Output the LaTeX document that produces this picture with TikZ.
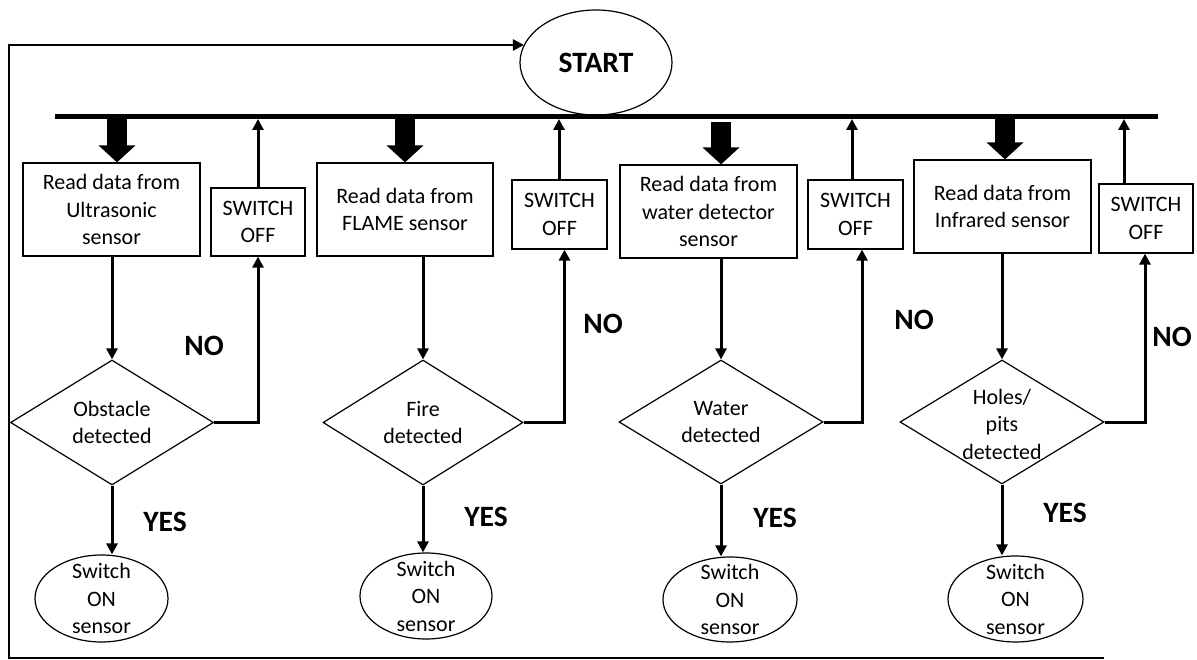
\documentclass[tikz,border=0pt]{standalone}
\usepackage{fontspec}
\setmainfont{Carlito}
\usetikzlibrary{arrows.meta,shapes.geometric,calc}
\begin{document}
\begin{tikzpicture}[x=1pt, y=-1pt,
  txt/.style={align=center, inner sep=0pt, font=\fontsize{22}{27.5}\selectfont},
  box/.style={draw, line width=1.2pt, rectangle, inner sep=0pt, align=center, font=\fontsize{22}{27.5}\selectfont},
  dec/.style={draw, diamond, line width=1.2pt, inner sep=0pt},
  term/.style={draw, ellipse, line width=1.2pt, inner sep=0pt},
  lbl/.style={inner sep=0pt, font=\fontsize{29.5}{34}\selectfont\bfseries},
  conn/.style={line width=3pt, -{Triangle[length=11pt,width=11pt]}},
  fat/.style={line width=20pt, -{Triangle[length=17pt,width=36pt]}},
  bus/.style={line width=5pt},
  loopline/.style={line width=2.6pt, -{Triangle[length=11pt,width=11pt]}}
]
\useasboundingbox (0,0) rectangle (1197,660);

% start
\node[term, minimum width=152pt, minimum height=105pt, font=\fontsize{29.5}{34}\selectfont\bfseries] (start) at (596,62.5) {START};

% bus
\coordinate (busL) at (55,117);
\coordinate (busR) at (1158,117);
\coordinate (busB) at (0,119);
\draw[bus] (busL) -- (busR);

% reading boxes
\node[box, minimum width=177pt, minimum height=93pt] (b1) at (111.5,209.5) {Read data from\\Ultrasonic\\sensor};
\node[box, minimum width=176pt, minimum height=93pt] (b2) at (405,209.5) {Read data from\\FLAME sensor};
\node[box, minimum width=177pt, minimum height=93pt] (b3) at (708.5,211.5) {Read data from\\water detector\\sensor};
\node[box, minimum width=177pt, minimum height=93pt] (b4) at (1002.5,206.5) {Read data from\\Infrared sensor};

% switch off boxes
\node[box, minimum width=94pt, minimum height=68pt] (s1) at (258,222) {SWITCH\\OFF};
\node[box, minimum width=95pt, minimum height=69pt] (s2) at (559.5,214.5) {SWITCH\\OFF};
\node[box, minimum width=95pt, minimum height=69pt] (s3) at (855.5,214.5) {SWITCH\\OFF};
\node[box, minimum width=94pt, minimum height=69pt] (s4) at (1146,218.5) {SWITCH\\OFF};

% decisions
\node[dec, minimum width=203pt, minimum height=125pt] (d1) at (112,422.5) {};
\node[txt] (d1t) at (d1) {Obstacle\\detected};
\node[dec, minimum width=200pt, minimum height=125pt] (d2) at (423,422.5) {};
\node[txt] (d2t) at (d2) {Fire\\detected};
\node[dec, minimum width=204pt, minimum height=124pt] (d3) at (721,422) {};
\node[txt] (d3t) at (d3) {Water\\detected};
\node[dec, minimum width=204pt, minimum height=124pt] (d4) at (1002,422) {};
\node[txt] (d4t) at (1002,424) {Holes/\\pits\\detected};

% switch on ellipses
\node[term, minimum width=133pt, minimum height=87pt] (e1) at (101.5,598.5) {};
\node[txt] (e1t) at (e1) {Switch\\ON\\sensor};
\node[term, minimum width=132pt, minimum height=86pt] (e2) at (426,596) {};
\node[txt] (e2t) at (e2) {Switch\\ON\\sensor};
\node[term, minimum width=134pt, minimum height=85pt] (e3) at (730,599.5) {};
\node[txt] (e3t) at (e3) {Switch\\ON\\sensor};
\node[term, minimum width=135pt, minimum height=86pt] (e4) at (1015.5,599) {};
\node[txt] (e4t) at (e4) {Switch\\ON\\sensor};

% fat arrows from bus
\coordinate (f1) at (117,117);
\coordinate (f2) at (405,117);
\coordinate (f3) at (721,122);
\coordinate (f4) at (1005,117);
\draw[fat] (f1) -- (f1 |- b1.north);
\draw[fat] (f2) -- (f2 |- b2.north);
\draw[fat] (f3) -- (f3 |- b3.north);
\draw[fat] (f4) -- (f4 |- b4.north);

% read -> decision
\draw[conn] (b1.south -| d1.north) -- (d1.north);
\draw[conn] (b2.south -| d2.north) -- (d2.north);
\draw[conn] (b3.south -| d3.north) -- (d3.north);
\draw[conn] (b4.south -| d4.north) -- (d4.north);

% decision -> switch on (YES)
\draw[conn] (d1.south) -- (d1.south |- e1.north);
\draw[conn] (d2.south) -- (d2.south |- e2.north);
\draw[conn] (d3.south) -- (d3.south |- e3.north);
\draw[conn] (d4.south) -- (d4.south |- e4.north);

% decision -> switch off (NO)
\coordinate (n1) at (258,0);
\coordinate (n2) at (564.5,0);
\coordinate (n3) at (862,0);
\coordinate (n4) at (1145,0);
\draw[conn, line join=miter] (d1.east) -| (n1 |- s1.south);
\draw[conn, line join=miter] (d2.east) -| (n2 |- s2.south);
\draw[conn, line join=miter] (d3.east) -| (n3 |- s3.south);
\draw[conn, line join=miter] (d4.east) -| (n4 |- s4.south);

% switch off -> bus
\coordinate (u1) at (258,0);
\coordinate (u2) at (559,0);
\coordinate (u3) at (852,0);
\coordinate (u4) at (1124,0);
\draw[conn] (u1 |- s1.north) -- (u1 |- busB);
\draw[conn] (u2 |- s2.north) -- (u2 |- busB);
\draw[conn] (u3 |- s3.north) -- (u3 |- busB);
\draw[conn] (u4 |- s4.north) -- (u4 |- busB);

% labels
\node[lbl] (no1) at (204,346) {NO};
\node[lbl] (no2) at (603,324) {NO};
\node[lbl] (no3) at (914,320) {NO};
\node[lbl] (no4) at (1172,337) {NO};
\node[lbl] (yes1) at (165,522) {YES};
\node[lbl] (yes2) at (486,517) {YES};
\node[lbl] (yes3) at (775,518) {YES};
\node[lbl] (yes4) at (1065,513) {YES};

% loop back to start
\coordinate (loopEnd) at (1104,658);
\coordinate (loopBL) at (9,658);
\coordinate (loopTL) at (9,45);
\draw[loopline, line join=miter] (loopEnd) -- (loopBL) -- (loopTL) -- (loopTL -| start.166);
\end{tikzpicture}
\end{document}
